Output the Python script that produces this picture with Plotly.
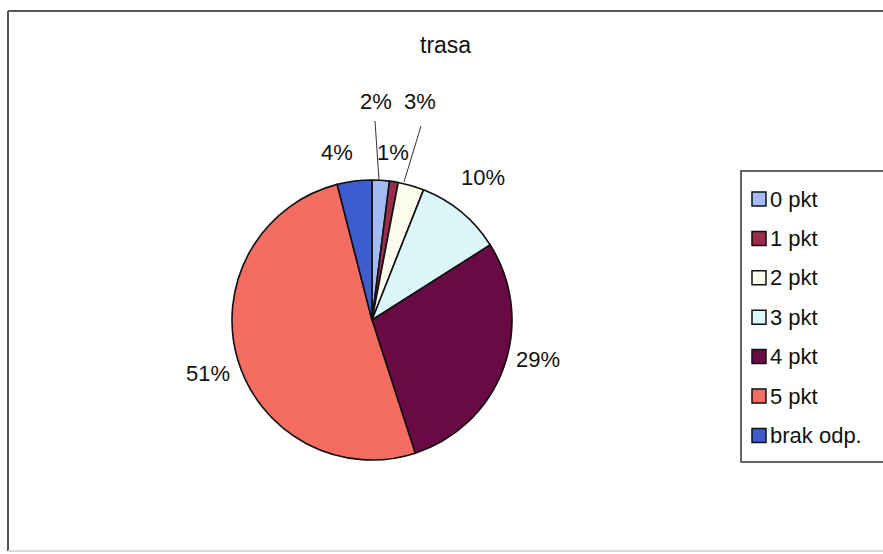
import plotly.graph_objects as go

W, H = 883, 554

# data
labels = ["0 pkt", "1 pkt", "2 pkt", "3 pkt", "4 pkt", "5 pkt", "brak odp."]
shares = [2, 1, 3, 10, 29, 51, 4]
colors = ["#a3baf3", "#9a2d4c", "#fbfbee", "#dcf7fa", "#6a0a45", "#f56c60", "#3d5ccd"]

# where the scan puts each percentage label (pixel centres)
label_pos = [(376, 101), (393, 153), (420, 102), (483, 177), (538, 359), (208, 373), (337, 153)]

FONT = "Liberation Sans, Arial, sans-serif"
TXT = "#111111"


def px(x, y):
    return x / W, 1 - y / H


fig = go.Figure(
    go.Pie(
        labels=labels,
        values=shares,
        sort=False,
        direction="clockwise",
        rotation=0,
        marker=dict(colors=colors, line=dict(color="#111111", width=1.6)),
        textinfo="none",
        hoverinfo="label+percent",
        showlegend=False,
        domain=dict(x=[232 / W, 512 / W], y=[(H - 460) / H, (H - 180) / H]),
    )
)

annotations = []
total = sum(shares)
for v, (x, y) in zip(shares, label_pos):
    ax, ay = px(x, y)
    annotations.append(dict(
        x=ax, y=ay, xref="paper", yref="paper", showarrow=False,
        xanchor="center", yanchor="middle",
        text=f"{round(v / total * 100)}%", font=dict(size=22, color=TXT, family=FONT),
    ))

# title
tx, ty = px(445, 45)
annotations.append(dict(x=tx, y=ty, xref="paper", yref="paper", showarrow=False,
                        xanchor="center", yanchor="middle",
                        text="trasa", font=dict(size=23, color=TXT, family=FONT)))

shapes = []
# chart frame
x0, y0 = px(8, 11)
x1, y1 = px(900, 551)
shapes.append(dict(type="line", xref="paper", yref="paper", x0=x0, y0=y0, x1=x1, y1=y0,
                   line=dict(color="#555555", width=2)))
shapes.append(dict(type="line", xref="paper", yref="paper", x0=x0, y0=y0, x1=x0, y1=y1,
                   line=dict(color="#555555", width=2)))
shapes.append(dict(type="line", xref="paper", yref="paper", x0=x0, y0=y1, x1=x1, y1=y1,
                   line=dict(color="#d8d8d8", width=2)))

# leader lines for the small slices
for (a, b) in [((375, 121), (379, 180)), ((421, 126), (404, 182))]:
    ax0, ay0 = px(*a)
    ax1, ay1 = px(*b)
    shapes.append(dict(type="line", xref="paper", yref="paper", x0=ax0, y0=ay0, x1=ax1, y1=ay1,
                       line=dict(color="#333333", width=1)))

# legend box
lx0, ly0 = px(741, 171)
lx1, ly1 = px(900, 462)
shapes.append(dict(type="rect", xref="paper", yref="paper", x0=lx0, y0=ly0, x1=lx1, y1=ly1,
                   line=dict(color="#333333", width=1.5), fillcolor="white", layer="below"))

for i, (lab, col) in enumerate(zip(labels, colors)):
    cy = 199 + i * 39.4
    mx0, my0 = px(752, cy - 7)
    mx1, my1 = px(766, cy + 7)
    shapes.append(dict(type="rect", xref="paper", yref="paper", x0=mx0, y0=my0, x1=mx1, y1=my1,
                       line=dict(color="#111111", width=1.5), fillcolor=col))
    tx, ty = px(768, cy)
    annotations.append(dict(x=tx, y=ty, xref="paper", yref="paper", showarrow=False,
                            xanchor="left", yanchor="middle", text=lab,
                            font=dict(size=22, color=TXT, family=FONT)))

fig.update_layout(
    width=W,
    height=H,
    margin=dict(l=0, r=0, t=0, b=0),
    paper_bgcolor="white",
    plot_bgcolor="white",
    annotations=annotations,
    shapes=shapes,
)

# page margin off so the figure sits flush in the window
fig.write_html(
    "out.html",
    config={"displayModeBar": False},
    post_script="document.body.style.margin='0';",
)
